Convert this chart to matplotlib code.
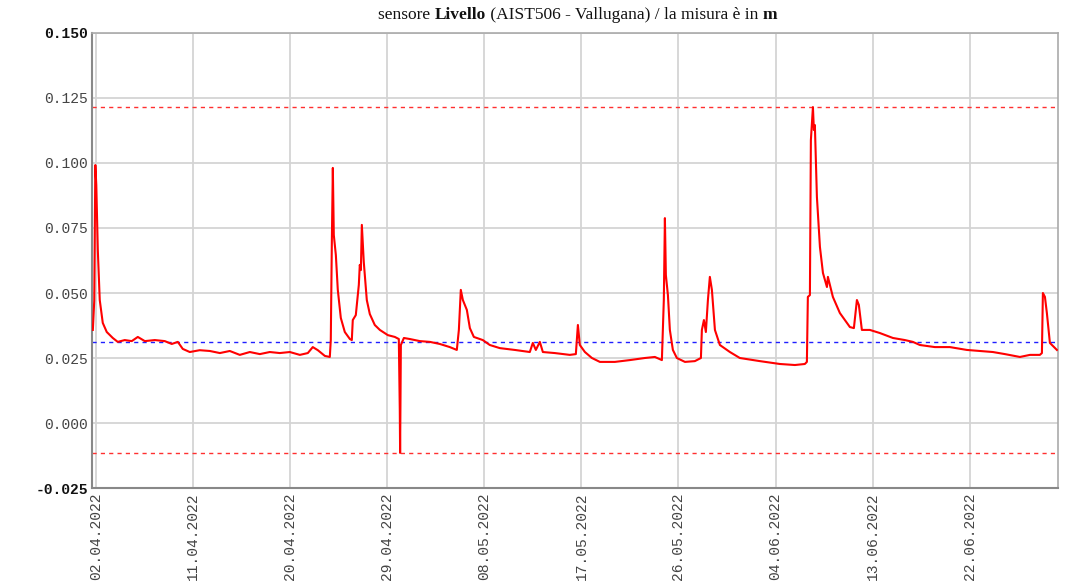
import matplotlib
matplotlib.use('Agg')
import matplotlib.pyplot as plt

# days since 02.04.2022 00:00 and level in m
days = [-0.32, -0.19, -0.09, 0.0, 0.14, 0.32, 0.60, 0.97, 1.53, 1.99, 2.64, 3.29, 3.85, 4.50, 5.43,
        6.35, 7.0, 7.56, 8.02, 8.67, 9.59, 10.53, 11.46, 12.38, 13.31, 14.24, 15.17, 16.09, 17.02,
        17.95, 18.88, 19.62, 20.08, 20.55, 21.2, 21.66, 21.75, 21.85, 21.94, 22.03, 22.22, 22.40,
        22.68, 23.05, 23.52, 23.7, 23.79, 24.07, 24.35, 24.44, 24.54, 24.63, 24.81, 25.09, 25.37,
        25.83, 26.3, 27.04, 27.69, 28.06, 28.15, 28.18, 28.25, 28.53, 29.08, 30.01, 30.94, 31.86,
        32.79, 33.44, 33.63, 33.81, 34.0, 34.37, 34.65, 35.02, 35.85, 36.5, 37.43, 38.82, 40.21,
        40.49, 40.77, 41.14, 41.42, 42.53, 43.92, 44.48, 44.67, 44.85, 45.32, 45.97, 46.71, 48.1,
        49.49, 50.88, 51.81, 52.46, 52.64, 52.74, 52.83, 53.02, 53.20, 53.48, 53.85, 54.6, 55.52,
        56.08, 56.17, 56.36, 56.54, 56.73, 56.91, 57.1, 57.38, 57.84, 58.77, 59.69, 61.55, 63.4,
        64.8, 65.72, 65.91, 66.0, 66.19, 66.28, 66.47, 66.56, 66.65, 66.75, 66.84, 67.12, 67.4,
        67.77, 67.86, 68.32, 68.97, 69.9, 70.27, 70.55, 70.73, 71.01, 71.75, 72.68, 73.89, 75.0,
        75.74, 76.39, 77.78, 79.17, 80.75, 81.96, 83.16, 84.28, 85.67, 86.6, 87.52, 87.71, 87.8,
        87.99, 88.17, 88.45, 89.1]
livello = [0.0358, 0.047, 0.0992, 0.0915, 0.0665, 0.0473, 0.0385, 0.035, 0.0327, 0.0312, 0.0319,
           0.0315, 0.0331, 0.0315, 0.0319, 0.0315, 0.0304, 0.0312, 0.0285, 0.0273, 0.028, 0.0277,
           0.0269, 0.0277, 0.0262, 0.0273, 0.0265, 0.0273, 0.0269, 0.0273, 0.0262, 0.0269, 0.0292,
           0.028, 0.0258, 0.0254, 0.0319, 0.0704, 0.0981, 0.0723, 0.0646, 0.0512, 0.0404, 0.035,
           0.0323, 0.0319, 0.0396, 0.0415, 0.0531, 0.0608, 0.0588, 0.0762, 0.0619, 0.0473, 0.0419,
           0.0377, 0.0358, 0.0338, 0.0331, 0.0323, 0.0050, -0.0115, 0.0300, 0.0327, 0.0323, 0.0315,
           0.0312, 0.0304, 0.0292, 0.0281, 0.0358, 0.0512, 0.0473, 0.0435, 0.0365, 0.0331, 0.0319,
           0.03, 0.0288, 0.0281, 0.0273, 0.0308, 0.0281, 0.0312, 0.0273, 0.0269, 0.0262, 0.0265,
           0.0377, 0.03, 0.0273, 0.025, 0.0235, 0.0235, 0.0242, 0.025, 0.0254, 0.0242, 0.0473,
           0.0788, 0.0569, 0.0492, 0.0358, 0.0281, 0.025, 0.0235, 0.0238, 0.025, 0.0358, 0.0396,
           0.035, 0.0473, 0.0562, 0.0512, 0.0358, 0.03, 0.0273, 0.025, 0.0238, 0.0227, 0.0223,
           0.0227, 0.0235, 0.0485, 0.0492, 0.1088, 0.1215, 0.1127, 0.1146, 0.0992, 0.0869, 0.0677,
           0.0577, 0.0523, 0.0562, 0.0485, 0.0423, 0.0369, 0.0365, 0.0473, 0.0454, 0.0358, 0.0358,
           0.0346, 0.0327, 0.0319, 0.0312, 0.03, 0.0292, 0.0292, 0.0281, 0.0277, 0.0273, 0.0265,
           0.0254, 0.0262, 0.0262, 0.0269, 0.050, 0.0485, 0.0423, 0.0308, 0.0281]

max_val = 0.1215
min_val = -0.0117
mean_val = 0.0311

tick_days = [0, 9, 18, 27, 36, 45, 54, 63, 72, 81]
tick_labels = ['02.04.2022', '11.04.2022', '20.04.2022', '29.04.2022', '08.05.2022',
               '17.05.2022', '26.05.2022', '04.06.2022', '13.06.2022', '22.06.2022']
y_ticks = [-0.025, 0.0, 0.025, 0.05, 0.075, 0.1, 0.125, 0.15]
y_labels = ['-0.025', '0.000', '0.025', '0.050', '0.075', '0.100', '0.125', '0.150']

fig = plt.figure(figsize=(10.86, 5.85), dpi=100)
ax = fig.add_axes([0.0847, 0.1658, 0.8895, 0.7778])

ax.plot(days, livello, color='#ff0000', linewidth=1.5, zorder=3)
ax.axhline(max_val, color='#ff3030', linestyle=(0, (3, 3)), linewidth=1.0, zorder=2)
ax.axhline(min_val, color='#ff3030', linestyle=(0, (3, 3)), linewidth=1.0, zorder=2)
ax.axhline(mean_val, color='#2020ff', linestyle=(0, (3, 3)), linewidth=1.0, zorder=2)

ax.set_xlim(-0.4, 89.2)
ax.set_ylim(-0.025, 0.15)
ax.set_xticks(tick_days)
ax.set_xticklabels(tick_labels, rotation=90, family='Liberation Mono', fontsize=10.5, color='#444444')
ax.set_yticks(y_ticks)
ax.set_yticklabels(y_labels, family='Liberation Mono', fontsize=10.5, color='#444444')
for lab in ax.get_yticklabels():
    if lab.get_text() in ('-0.025', '0.150'):
        lab.set_fontweight('bold')
        lab.set_color('#111111')
ax.tick_params(length=0, pad=3)
ax.grid(True, color='#d4d4d4', linewidth=1.3)
ax.set_axisbelow(True)
for s in ['left', 'bottom']:
    ax.spines[s].set_color('#888888')
    ax.spines[s].set_linewidth(1.5)
for s in ['top', 'right']:
    ax.spines[s].set_color('#aaaaaa')
    ax.spines[s].set_linewidth(1.2)

# title made of pieces, some of them bold
pieces = [('sensore ', 'normal'), ('Livello', 'bold'), (' (AIST506 - Vallugana) / la misura è in ', 'normal'), ('m', 'bold')]
fig.canvas.draw()
r = fig.canvas.get_renderer()
widths = []
for txt, w in pieces:
    # measure with a marker on both sides so that spaces count
    t = fig.text(0, 0, '|' + txt + '|', family='Liberation Serif', fontsize=12.5, weight=w)
    t2 = fig.text(0, 0, '||', family='Liberation Serif', fontsize=12.5, weight=w)
    widths.append(t.get_window_extent(r).width - t2.get_window_extent(r).width)
    t.remove()
    t2.remove()
x = 578 - sum(widths) / 2
for (txt, w), wd in zip(pieces, widths):
    fig.text(x / 1086, 1 - 15 / 585, txt, family='Liberation Serif', fontsize=12.5, weight=w,
             va='center', ha='left', color='#111111')
    x += wd

fig.savefig('out.png', dpi=100)
